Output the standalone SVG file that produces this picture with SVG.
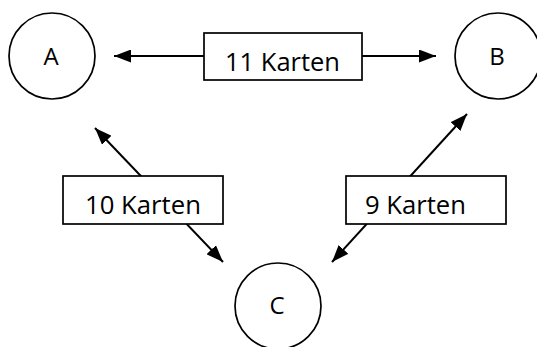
<svg xmlns="http://www.w3.org/2000/svg" width="537" height="347" viewBox="0 0 537 347">
  <style>
    .node { fill: #ffffff; stroke: #000000; stroke-width: 1.7; }
    .box { fill: #ffffff; stroke: #000000; stroke-width: 1.7; }
    .edge { stroke: #000000; stroke-width: 2; fill: none; }
    .letter { font-family: "Open Sans", "Noto Sans", sans-serif; font-size: 24px; fill: #000000; text-anchor: middle; }
    .label { font-family: "Open Sans", "Noto Sans", sans-serif; font-size: 26px; fill: #000000; }
  </style>
  <defs>
    <marker id="arrow" viewBox="0 0 17 13" refX="17" refY="6.5" markerWidth="17" markerHeight="13" markerUnits="userSpaceOnUse" orient="auto-start-reverse">
      <path d="M0,0 L17,6.5 L0,13 Z" fill="#000000"/>
    </marker>
    <clipPath id="clip-top"><rect x="204" y="33" width="158" height="38"/></clipPath>
    <clipPath id="clip-left"><rect x="63" y="176" width="160" height="38"/></clipPath>
    <clipPath id="clip-right"><rect x="346" y="176" width="160" height="38"/></clipPath>
  </defs>

  <!-- connectors run underneath the label boxes -->
  <g id="connectors">
    <line class="edge" x1="204" y1="56" x2="114" y2="56" marker-end="url(#arrow)"/>
    <line class="edge" x1="362" y1="56" x2="436" y2="56" marker-end="url(#arrow)"/>
    <line class="edge" x1="95" y1="128" x2="223" y2="262" marker-start="url(#arrow)" marker-end="url(#arrow)"/>
    <line class="edge" x1="467" y1="114" x2="332" y2="262" marker-start="url(#arrow)" marker-end="url(#arrow)"/>
  </g>

  <g id="node-a">
    <circle class="node" cx="52" cy="56" r="43"/>
    <text class="letter" x="51" y="65">A</text>
  </g>
  <g id="node-b">
    <circle class="node" cx="498" cy="56" r="43"/>
    <text class="letter" x="497" y="65">B</text>
  </g>
  <g id="node-c">
    <circle class="node" cx="278" cy="306" r="43"/>
    <text class="letter" x="277" y="314">C</text>
  </g>

  <g id="label-ab">
    <rect class="box" x="204" y="33" width="158" height="47"/>
    <text class="label" x="225" y="71" textLength="115" lengthAdjust="spacingAndGlyphs" clip-path="url(#clip-top)">11 Karten</text>
  </g>
  <g id="label-ac">
    <rect class="box" x="63" y="176" width="160" height="48"/>
    <text class="label" x="85" y="214" textLength="116" lengthAdjust="spacingAndGlyphs" clip-path="url(#clip-left)">10 Karten</text>
  </g>
  <g id="label-bc">
    <rect class="box" x="346" y="176" width="160" height="48"/>
    <text class="label" x="365" y="214" textLength="101" lengthAdjust="spacingAndGlyphs" clip-path="url(#clip-right)">9 Karten</text>
  </g>
</svg>
